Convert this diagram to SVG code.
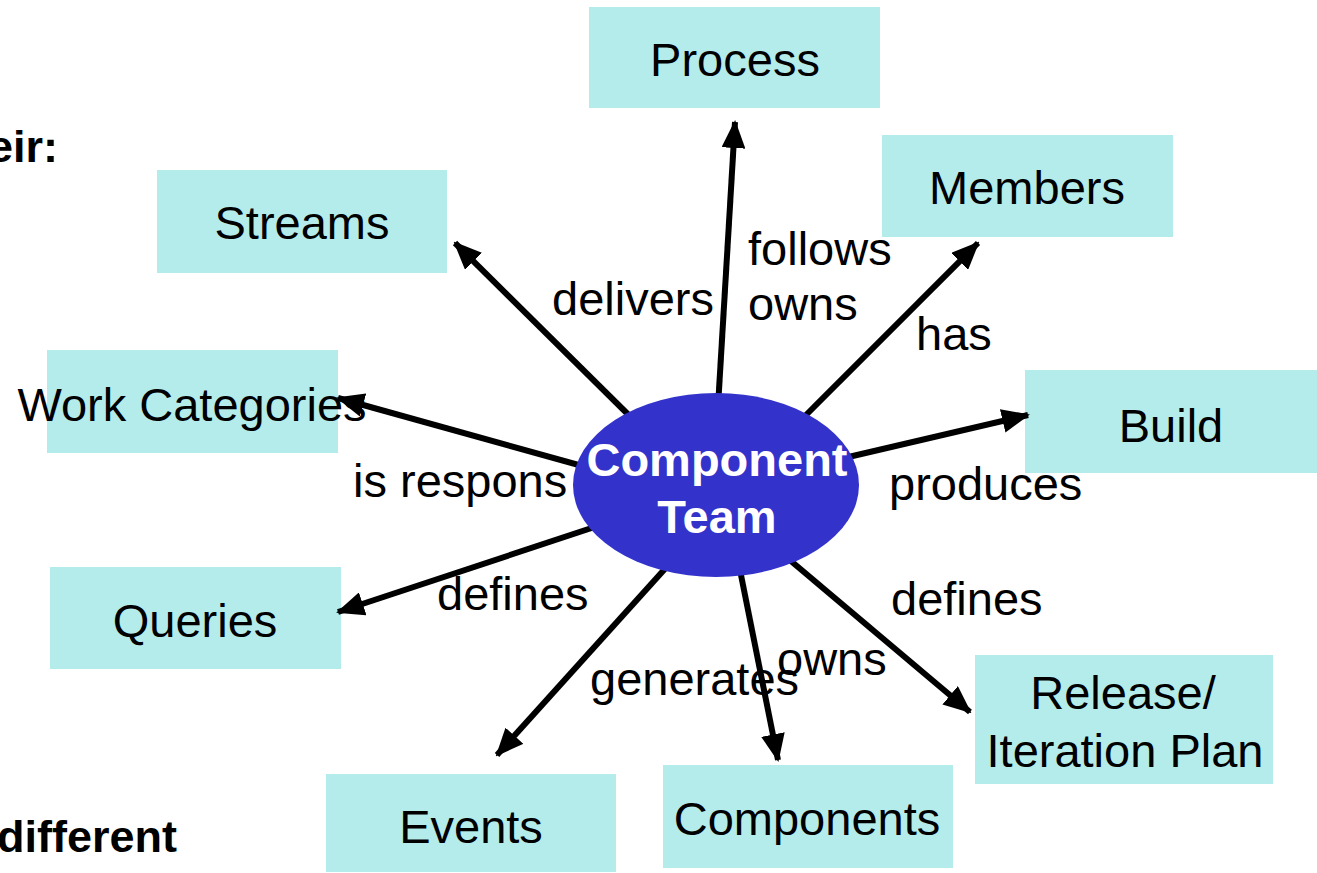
<svg xmlns="http://www.w3.org/2000/svg" width="1317" height="873" viewBox="0 0 1317 873">
<style>
.box{fill:#B4ECEC}
.t{font-family:"Liberation Sans",Arial,sans-serif;font-size:47px;fill:#000}
.s{font-size:45px}
.c{text-anchor:middle}
.b{font-weight:bold}
.w{fill:#fff}
.ln{stroke:#000;stroke-width:6;fill:none;marker-end:url(#ah)}
</style>
<defs>
<marker id="ah" markerUnits="userSpaceOnUse" viewBox="0 0 28 24" refX="26" refY="12" markerWidth="28" markerHeight="24" orient="auto">
<path d="M0,0 L28,12 L0,24 Z" fill="#000"/>
</marker>
</defs>
<rect width="1317" height="873" fill="#fff"/>
<text class="t s b" x="-12" y="162">eir:</text>
<text class="t s b" x="-3" y="852">different</text>
<g id="process"><rect class="box" x="589" y="7" width="291" height="101"/><text class="t c" x="735" y="76">Process</text></g>
<g id="members"><rect class="box" x="882" y="135" width="291" height="102"/><text class="t c" x="1027" y="204">Members</text></g>
<g id="streams"><rect class="box" x="157" y="170" width="290" height="103"/><text class="t c" x="302" y="239">Streams</text></g>
<g id="workcat"><rect class="box" x="47" y="350" width="291" height="103"/><text class="t c" x="192" y="421">Work Categories</text></g>
<g id="build"><rect class="box" x="1025" y="370" width="292" height="103"/><text class="t c" x="1171" y="442">Build</text></g>
<g id="queries"><rect class="box" x="50" y="567" width="291" height="102"/><text class="t c" x="195" y="637">Queries</text></g>
<g id="release"><rect class="box" x="975" y="655" width="298" height="129"/><text class="t c" x="1123" y="709">Release/</text><text class="t c" x="1125" y="767">Iteration Plan</text></g>
<g id="events"><rect class="box" x="326" y="774" width="290" height="98"/><text class="t c" x="471" y="843">Events</text></g>
<g id="components"><rect class="box" x="663" y="765" width="290" height="103"/><text class="t c" x="807" y="835">Components</text></g>
<g id="connectors">
<line class="ln" x1="716" y1="440" x2="735" y2="122"/>
<line class="ln" x1="780" y1="441" x2="978" y2="243"/>
<line class="ln" x1="660" y1="446" x2="455" y2="243"/>
<line class="ln" x1="640" y1="482" x2="338" y2="398"/>
<line class="ln" x1="780" y1="473" x2="1028" y2="415"/>
<line class="ln" x1="640" y1="512" x2="338" y2="612"/>
<line class="ln" x1="700" y1="530" x2="497" y2="755"/>
<line class="ln" x1="730" y1="520" x2="778" y2="760"/>
<line class="ln" x1="760" y1="535" x2="970" y2="712"/>
</g>
<g id="labels">
<text class="t" x="748" y="265">follows</text>
<text class="t" x="748" y="320">owns</text>
<text class="t" x="552" y="315">delivers</text>
<text class="t" x="916" y="350">has</text>
<text class="t" x="889" y="500">produces</text>
<text class="t" x="353" y="497">is respons</text>
<text class="t" x="437" y="610">defines</text>
<text class="t" x="590" y="695">generates</text>
<text class="t" x="777" y="675">owns</text>
<text class="t" x="891" y="615">defines</text>
</g>
<g id="team">
<ellipse cx="716" cy="485" rx="143" ry="92" fill="#3333CC"/>
<text class="t c b w" x="717" y="476">Component</text>
<text class="t c b w" x="717" y="533">Team</text>
</g>
</svg>
